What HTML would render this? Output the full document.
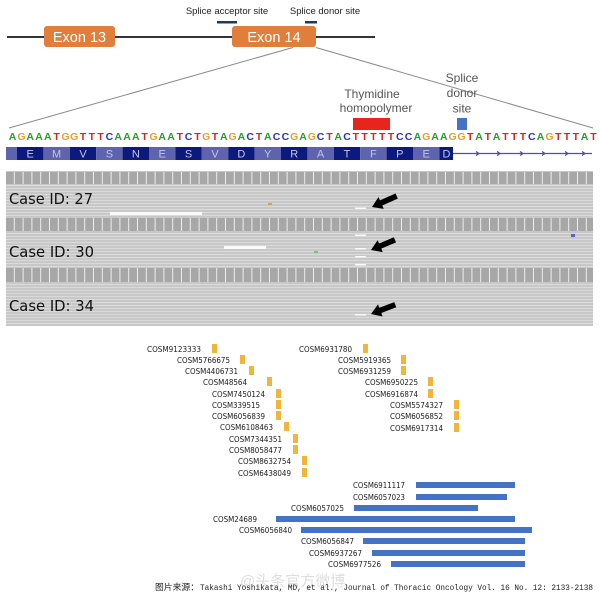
<!DOCTYPE html>
<html><head><meta charset="utf-8"><style>
html,body{margin:0;padding:0;background:#fff;}
svg{display:block;}
.seq{font-family:"Liberation Sans",sans-serif;font-weight:bold;font-size:10.5px;text-anchor:middle;}
.A{fill:#23a02a}.G{fill:#e39d35}.T{fill:#dc2320}.C{fill:#2b33c4}
.aa{font-family:"Liberation Sans",sans-serif;font-size:11px;fill:#c3c6e8;text-anchor:middle;}
.cos{font-family:"DejaVu Sans","Liberation Sans",sans-serif;font-size:8.3px;fill:#1a1a1a;}
.case{font-family:"DejaVu Sans","Liberation Sans",sans-serif;font-size:15.5px;fill:#111;}
.lab{font-family:"Liberation Sans",sans-serif;font-size:12px;fill:#555;text-anchor:middle;}
</style></head><body>
<svg width="600" height="595" viewBox="0 0 600 595" xmlns="http://www.w3.org/2000/svg">
<defs>
<pattern id="hdr" x="6" y="0" width="8.8" height="20" patternUnits="userSpaceOnUse">
<rect width="8.8" height="20" fill="#a7a7a7"/><rect x="7.8" width="1" height="20" fill="#eeeeee"/>
</pattern>
<pattern id="rd" x="0" y="0" width="20" height="3" patternUnits="userSpaceOnUse">
<rect width="20" height="3" fill="#c8c8c8"/><rect y="2" width="20" height="1" fill="#dadada"/>
</pattern>
</defs>
<rect width="600" height="595" fill="#fff"/>

<!-- top gene structure -->
<text x="227" y="14" font-family="Liberation Sans, sans-serif" font-size="9.5" fill="#222" text-anchor="middle">Splice acceptor site</text>
<text x="325" y="14" font-family="Liberation Sans, sans-serif" font-size="9.5" fill="#222" text-anchor="middle">Splice donor site</text>
<rect x="217" y="21" width="20" height="2.5" fill="#1f3864"/>
<rect x="305" y="21" width="12" height="2.5" fill="#1f3864"/>
<line x1="7" y1="37" x2="375" y2="37" stroke="#333" stroke-width="2"/>
<rect x="44" y="26" width="71" height="21" rx="3" fill="#e07f3c"/>
<rect x="232" y="26" width="84" height="21" rx="3" fill="#e07f3c"/>
<text x="79.5" y="42" font-family="Liberation Sans, sans-serif" font-size="14.5" fill="#fff" text-anchor="middle">Exon 13</text>
<text x="274" y="42" font-family="Liberation Sans, sans-serif" font-size="14.5" fill="#fff" text-anchor="middle">Exon 14</text>
<line x1="293" y1="47.5" x2="9" y2="128" stroke="#8a8a8a" stroke-width="1"/>
<line x1="316" y1="47.5" x2="593" y2="128" stroke="#8a8a8a" stroke-width="1"/>

<!-- annotations -->
<text class="lab" x="372" y="98">Thymidine</text>
<text class="lab" x="376" y="112">homopolymer</text>
<text class="lab" x="462" y="82">Splice</text>
<text class="lab" x="462" y="97">donor</text>
<text class="lab" x="462" y="112.5">site</text>
<rect x="353" y="118" width="37" height="12" fill="#e8251c"/>
<rect x="457" y="118" width="10" height="12" fill="#4472c4"/>

<!-- sequence -->
<text class="seq" y="140">
<tspan class="A" x="12.6">A</tspan><tspan class="G" x="21.4">G</tspan><tspan class="A" x="30.2">A</tspan><tspan class="A" x="39.0">A</tspan><tspan class="A" x="47.8">A</tspan><tspan class="T" x="56.6">T</tspan><tspan class="G" x="65.4">G</tspan><tspan class="G" x="74.2">G</tspan><tspan class="T" x="83.0">T</tspan><tspan class="T" x="91.8">T</tspan><tspan class="T" x="100.6">T</tspan><tspan class="C" x="109.4">C</tspan><tspan class="A" x="118.2">A</tspan><tspan class="A" x="127.0">A</tspan><tspan class="A" x="135.8">A</tspan><tspan class="T" x="144.6">T</tspan><tspan class="G" x="153.4">G</tspan><tspan class="A" x="162.2">A</tspan><tspan class="A" x="171.0">A</tspan><tspan class="T" x="179.8">T</tspan><tspan class="C" x="188.6">C</tspan><tspan class="T" x="197.4">T</tspan><tspan class="G" x="206.2">G</tspan><tspan class="T" x="215.0">T</tspan><tspan class="A" x="223.8">A</tspan><tspan class="G" x="232.6">G</tspan><tspan class="A" x="241.4">A</tspan><tspan class="C" x="250.2">C</tspan><tspan class="T" x="259.0">T</tspan><tspan class="A" x="267.8">A</tspan><tspan class="C" x="276.6">C</tspan><tspan class="C" x="285.4">C</tspan><tspan class="G" x="294.2">G</tspan><tspan class="A" x="303.0">A</tspan><tspan class="G" x="311.8">G</tspan><tspan class="C" x="320.6">C</tspan><tspan class="T" x="329.4">T</tspan><tspan class="A" x="338.2">A</tspan><tspan class="C" x="347.0">C</tspan><tspan class="T" x="355.8">T</tspan><tspan class="T" x="364.6">T</tspan><tspan class="T" x="373.4">T</tspan><tspan class="T" x="382.2">T</tspan><tspan class="T" x="391.0">T</tspan><tspan class="C" x="399.8">C</tspan><tspan class="C" x="408.6">C</tspan><tspan class="A" x="417.4">A</tspan><tspan class="G" x="426.2">G</tspan><tspan class="A" x="435.0">A</tspan><tspan class="A" x="443.8">A</tspan><tspan class="G" x="452.6">G</tspan><tspan class="G" x="461.4">G</tspan><tspan class="T" x="470.2">T</tspan><tspan class="A" x="479.0">A</tspan><tspan class="T" x="487.8">T</tspan><tspan class="A" x="496.6">A</tspan><tspan class="T" x="505.4">T</tspan><tspan class="T" x="514.2">T</tspan><tspan class="T" x="523.0">T</tspan><tspan class="C" x="531.8">C</tspan><tspan class="A" x="540.6">A</tspan><tspan class="G" x="549.4">G</tspan><tspan class="T" x="558.2">T</tspan><tspan class="T" x="567.0">T</tspan><tspan class="T" x="575.8">T</tspan><tspan class="A" x="584.6">A</tspan><tspan class="T" x="593.4">T</tspan>
</text>

<!-- protein track -->
<rect x="6" y="147" width="11" height="13" fill="#5d63ad"/>
<rect x="17" y="147" width="26.4" height="13" fill="#0c1a7e"/>
<rect x="43.4" y="147" width="26.4" height="13" fill="#5d63ad"/>
<rect x="69.8" y="147" width="26.4" height="13" fill="#0c1a7e"/>
<rect x="96.2" y="147" width="26.4" height="13" fill="#5d63ad"/>
<rect x="122.6" y="147" width="26.4" height="13" fill="#0c1a7e"/>
<rect x="149" y="147" width="26.4" height="13" fill="#5d63ad"/>
<rect x="175.4" y="147" width="26.4" height="13" fill="#0c1a7e"/>
<rect x="201.8" y="147" width="26.4" height="13" fill="#5d63ad"/>
<rect x="228.2" y="147" width="26.4" height="13" fill="#0c1a7e"/>
<rect x="254.6" y="147" width="26.4" height="13" fill="#5d63ad"/>
<rect x="281" y="147" width="26.4" height="13" fill="#0c1a7e"/>
<rect x="307.4" y="147" width="26.4" height="13" fill="#5d63ad"/>
<rect x="333.8" y="147" width="26.4" height="13" fill="#0c1a7e"/>
<rect x="360.2" y="147" width="26.4" height="13" fill="#5d63ad"/>
<rect x="386.6" y="147" width="26.4" height="13" fill="#0c1a7e"/>
<rect x="413" y="147" width="26.4" height="13" fill="#5d63ad"/>
<rect x="439.4" y="147" width="13.6" height="13" fill="#0c1a7e"/>
<g class="aa">
<text x="30.2" y="157.5">E</text><text x="56.6" y="157.5">M</text><text x="83" y="157.5">V</text><text x="109.4" y="157.5">S</text><text x="135.8" y="157.5">N</text><text x="162.2" y="157.5">E</text><text x="188.6" y="157.5">S</text><text x="215" y="157.5">V</text><text x="241.4" y="157.5">D</text><text x="267.8" y="157.5">Y</text><text x="294.2" y="157.5">R</text><text x="320.6" y="157.5">A</text><text x="347" y="157.5">T</text><text x="373.4" y="157.5">F</text><text x="399.8" y="157.5">P</text><text x="426.2" y="157.5">E</text><text x="446.5" y="157.5">D</text>
</g>
<line x1="453" y1="153.5" x2="592" y2="153.5" stroke="#4b4fae" stroke-width="1.3"/>
<g stroke="#4b4fae" stroke-width="1.2" fill="none">
<polyline points="476,151.5 479,153.5 476,155.5"/><polyline points="497,151.5 500,153.5 497,155.5"/><polyline points="520,151.5 523,153.5 520,155.5"/><polyline points="542,151.5 545,153.5 542,155.5"/><polyline points="565,151.5 568,153.5 565,155.5"/><polyline points="582,151.5 585,153.5 582,155.5"/>
</g>

<!-- case panels -->
<rect x="6" y="171" width="587" height="155" fill="#c8c8c8"/>
<rect x="6" y="172" width="587" height="12" fill="url(#hdr)"/>
<rect x="6" y="185" width="587" height="32" fill="url(#rd)"/>
<rect x="6" y="218" width="587" height="13" fill="url(#hdr)"/>
<rect x="6" y="232" width="587" height="35" fill="url(#rd)"/>
<rect x="6" y="268" width="587" height="14" fill="url(#hdr)"/>
<rect x="6" y="283" width="587" height="43" fill="url(#rd)"/>

<rect x="110" y="212" width="92" height="3" fill="#fafafa"/>
<rect x="224" y="246" width="42" height="3" fill="#fafafa"/>
<rect x="268" y="203" width="4" height="2" fill="#d8a050"/>
<rect x="314" y="251" width="4" height="2" fill="#6fc96f"/>
<rect x="571" y="234" width="4" height="3" fill="#6060c0"/>

<g fill="#fafafa">
<rect x="355" y="207.5" width="11" height="1.5"/>
<rect x="355" y="234.5" width="11" height="1.5"/>
<rect x="355" y="248" width="11" height="1.5"/>
<rect x="355" y="256" width="11" height="1.5"/>
<rect x="355" y="264" width="11" height="1.5"/>
<rect x="355" y="314" width="11" height="1.5"/>
</g>
<g fill="#000">
<polygon transform="translate(372,207) rotate(156)" points="0,0 -10,-6.5 -10,-2.8 -27,-2.8 -27,2.8 -10,2.8 -10,6.5"/>
<polygon transform="translate(371,250) rotate(157)" points="0,0 -10,-6.5 -10,-2.8 -26,-2.8 -26,2.8 -10,2.8 -10,6.5"/>
<polygon transform="translate(371,314) rotate(159)" points="0,0 -10,-6.5 -10,-2.8 -26,-2.8 -26,2.8 -10,2.8 -10,6.5"/>
</g>

<text class="case" x="9" y="204" textLength="84" lengthAdjust="spacingAndGlyphs">Case ID: 27</text>
<text class="case" x="9" y="257" textLength="85" lengthAdjust="spacingAndGlyphs">Case ID: 30</text>
<text class="case" x="9" y="311" textLength="85" lengthAdjust="spacingAndGlyphs">Case ID: 34</text>

<!-- COSMIC labels -->
<g class="cos">
<text x="147" y="352" textLength="54" lengthAdjust="spacingAndGlyphs">COSM9123333</text>
<text x="177" y="363" textLength="53" lengthAdjust="spacingAndGlyphs">COSM5766675</text>
<text x="185" y="374" textLength="53" lengthAdjust="spacingAndGlyphs">COSM4406731</text>
<text x="203" y="385" textLength="44" lengthAdjust="spacingAndGlyphs">COSM48564</text>
<text x="212" y="397" textLength="53" lengthAdjust="spacingAndGlyphs">COSM7450124</text>
<text x="212" y="408" textLength="48" lengthAdjust="spacingAndGlyphs">COSM339515</text>
<text x="212" y="419" textLength="53" lengthAdjust="spacingAndGlyphs">COSM6056839</text>
<text x="220" y="430" textLength="53" lengthAdjust="spacingAndGlyphs">COSM6108463</text>
<text x="229" y="442" textLength="53" lengthAdjust="spacingAndGlyphs">COSM7344351</text>
<text x="229" y="453" textLength="53" lengthAdjust="spacingAndGlyphs">COSM8058477</text>
<text x="238" y="464" textLength="53" lengthAdjust="spacingAndGlyphs">COSM8632754</text>
<text x="238" y="476" textLength="53" lengthAdjust="spacingAndGlyphs">COSM6438049</text>

<text x="299" y="352" textLength="53" lengthAdjust="spacingAndGlyphs">COSM6931780</text>
<text x="338" y="363" textLength="53" lengthAdjust="spacingAndGlyphs">COSM5919365</text>
<text x="338" y="374" textLength="53" lengthAdjust="spacingAndGlyphs">COSM6931259</text>
<text x="365" y="385" textLength="53" lengthAdjust="spacingAndGlyphs">COSM6950225</text>
<text x="365" y="397" textLength="53" lengthAdjust="spacingAndGlyphs">COSM6916874</text>
<text x="390" y="408" textLength="53" lengthAdjust="spacingAndGlyphs">COSM5574327</text>
<text x="390" y="419" textLength="53" lengthAdjust="spacingAndGlyphs">COSM6056852</text>
<text x="390" y="431" textLength="53" lengthAdjust="spacingAndGlyphs">COSM6917314</text>

<text x="353" y="488" textLength="52" lengthAdjust="spacingAndGlyphs">COSM6911117</text>
<text x="353" y="500" textLength="52" lengthAdjust="spacingAndGlyphs">COSM6057023</text>
<text x="291" y="511" textLength="53" lengthAdjust="spacingAndGlyphs">COSM6057025</text>
<text x="213" y="522" textLength="44" lengthAdjust="spacingAndGlyphs">COSM24689</text>
<text x="239" y="533" textLength="53" lengthAdjust="spacingAndGlyphs">COSM6056840</text>
<text x="301" y="544" textLength="53" lengthAdjust="spacingAndGlyphs">COSM6056847</text>
<text x="309" y="556" textLength="53" lengthAdjust="spacingAndGlyphs">COSM6937267</text>
<text x="328" y="567" textLength="53" lengthAdjust="spacingAndGlyphs">COSM6977526</text>
</g>
<g fill="#f2b53b">
<rect x="212" y="344" width="5" height="9"/>
<rect x="240" y="355" width="5" height="9"/>
<rect x="249" y="366" width="5" height="9"/>
<rect x="267" y="377" width="5" height="9"/>
<rect x="276" y="389" width="5" height="9"/>
<rect x="276" y="400" width="5" height="9"/>
<rect x="276" y="411" width="5" height="9"/>
<rect x="284" y="422" width="5" height="9"/>
<rect x="293" y="434" width="5" height="9"/>
<rect x="293" y="445" width="5" height="9"/>
<rect x="302" y="456" width="5" height="9"/>
<rect x="302" y="468" width="5" height="9"/>

<rect x="363" y="344" width="5" height="9"/>
<rect x="401" y="355" width="5" height="9"/>
<rect x="401" y="366" width="5" height="9"/>
<rect x="428" y="377" width="5" height="9"/>
<rect x="428" y="389" width="5" height="9"/>
<rect x="454" y="400" width="5" height="9"/>
<rect x="454" y="411" width="5" height="9"/>
<rect x="454" y="423" width="5" height="9"/>
</g>
<g fill="#4472c4">
<rect x="416" y="482" width="99" height="6"/>
<rect x="416" y="494" width="91" height="6"/>
<rect x="354" y="505" width="124" height="6"/>
<rect x="276" y="516" width="239" height="6"/>
<rect x="301" y="527" width="231" height="6"/>
<rect x="363" y="538" width="162" height="6"/>
<rect x="372" y="550" width="153" height="6"/>
<rect x="391" y="561" width="134" height="6"/>
</g>

<!-- watermark + caption -->
<text x="240" y="586" font-family="Liberation Sans, 'Noto Sans CJK SC', sans-serif" font-size="15" fill="#d6d6d6" opacity="0.8">@头条官方微博</text>
<text x="155" y="590" font-family="'Noto Sans CJK SC', sans-serif" font-size="8.8" fill="#222">图片来源：</text>
<text x="200" y="590" font-family="'Liberation Mono', 'DejaVu Sans Mono', monospace" font-size="8.2" fill="#222" textLength="393" lengthAdjust="spacingAndGlyphs">Takashi Yoshikata, MD, et al., Journal of Thoracic Oncology Vol. 16 No. 12: 2133-2138</text>
</svg>
</body></html>
